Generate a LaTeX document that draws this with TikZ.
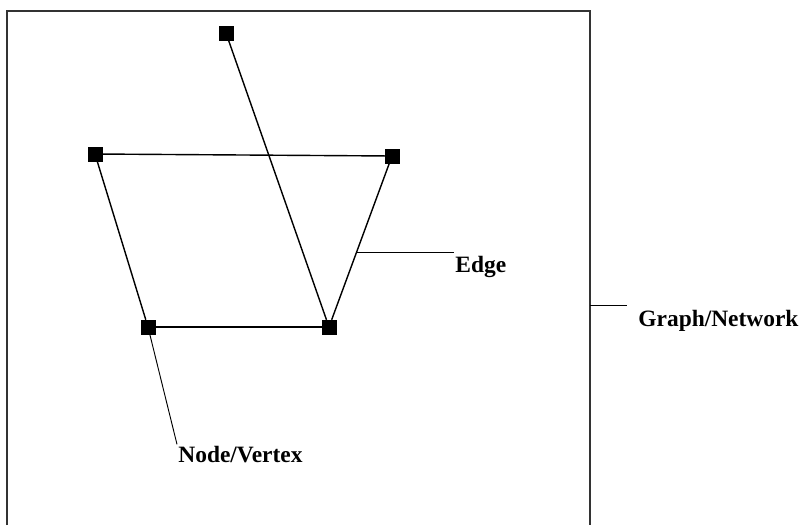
\documentclass[tikz,border=0pt]{standalone}
\usepackage{fontspec}
\setmainfont{Liberation Serif}
\usetikzlibrary{positioning}
\definecolor{frameline}{HTML}{333333}

\begin{document}
\begin{tikzpicture}[
  x=0.03cm,y=-0.03cm,
  vertex/.style={draw=black,fill=black,rectangle,minimum size=0.42cm,inner sep=0pt},
  edge/.style={draw=black,line width=1.2pt},
  pointer/.style={draw=black,line width=0.8pt},
  tag/.style={font=\fontsize{20}{22}\selectfont\bfseries,inner sep=1pt}
]
\useasboundingbox (0,0) rectangle (804,525);
% frame of the graph, open at the bottom
\draw[frameline,line width=1pt] (7,525) |- (590,11) -- (590,525);
\node[vertex] (vTop)   at (226,33)  {};
\node[vertex] (vLeft)  at (95,154)  {};
\node[vertex] (vRight) at (392,156) {};
\node[vertex] (vBotL)  at (148,327) {};
\node[vertex] (vBotR)  at (329,327) {};
\draw[edge] (vTop) -- (vBotR);
\draw[edge] (vLeft) -- (vRight);
\draw[edge] (vLeft) -- (vBotL);
\draw[edge] (vRight) -- (vBotR);
\draw[edge] (vBotL) -- (vBotR);
% labels
\node[tag,anchor=base west] (lblNode)  at (177,462) {Node/Vertex};
\node[tag,anchor=base west] (lblEdge)  at (454,272) {Edge};
\node[tag,anchor=base west] (lblGraph) at (637,326) {Graph/Network};
\coordinate (edgePt)  at (357,252);
\coordinate (frameR)  at (590,305);
\coordinate (graphTip) at (627,305);
\draw[pointer] (vBotL) -- (lblNode.north west);
\draw[pointer] (edgePt) -- (edgePt -| lblEdge.west);
\draw[pointer] (frameR) -- (graphTip);
\end{tikzpicture}
\end{document}
